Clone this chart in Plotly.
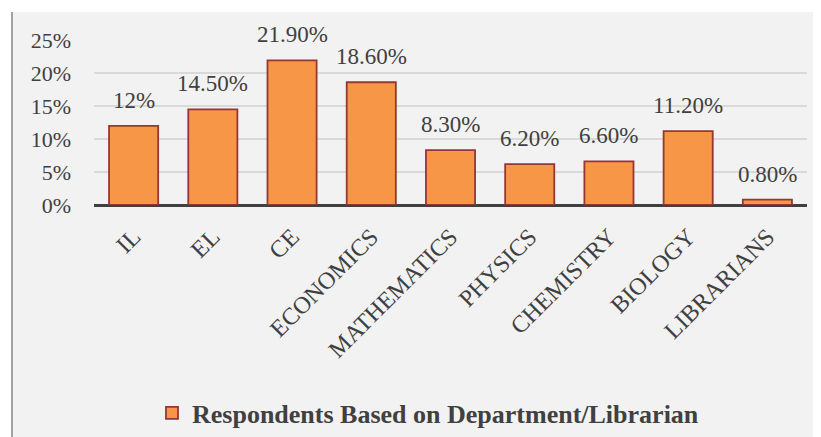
import plotly.graph_objects as go

categories = ["IL", "EL", "CE", "ECONOMICS", "MATHEMATICS", "PHYSICS", "CHEMISTRY", "BIOLOGY", "LIBRARIANS"]
values = [12, 14.5, 21.9, 18.6, 8.3, 6.2, 6.6, 11.2, 0.8]
value_labels = ["12%", "14.50%", "21.90%", "18.60%", "8.30%", "6.20%", "6.60%", "11.20%", "0.80%"]
series_name = "Respondents Based on Department/Librarian"

FONT = "Liberation Serif, Times New Roman, serif"
# page body has an 8px margin, so the figure is sized to fill the rest of the window
W, H = 813, 429
L, R, T, B = 86, 14, 32, 232
pw, ph = W - L - R, H - T - B

def px_x(p):
    return (p - L) / pw

def px_y(p):
    return (H - B - p) / ph

fig = go.Figure()
fig.add_trace(go.Bar(
    x=categories, y=values, name=series_name,
    marker=dict(color="#F79646", line=dict(color="#953735", width=1.8)),
    showlegend=True,
))

for c, v, t in zip(categories, values, value_labels):
    fig.add_annotation(x=c, y=v, text=t, showarrow=False, yanchor="bottom",
                       yshift=11, font=dict(family=FONT, size=23, color="#404040"))

shapes = [
    dict(type="rect", xref="paper", yref="paper", x0=-1, x1=2, y0=px_y(4), y1=3,
         fillcolor="white", line=dict(width=0), layer="above"),
    dict(type="rect", xref="paper", yref="paper", x0=-1, x1=px_x(3), y0=-3, y1=3,
         fillcolor="white", line=dict(width=0), layer="above"),
    dict(type="line", xref="paper", yref="paper", x0=px_x(4), x1=px_x(4), y0=-3, y1=px_y(4),
         line=dict(color="#8c8c8c", width=1.6), layer="above"),
]

fig.update_layout(
    width=W, height=H,
    margin=dict(l=L, r=R, t=T, b=B, pad=0),
    paper_bgcolor="#f2f2f2", plot_bgcolor="#f2f2f2",
    font=dict(family=FONT, color="#404040"),
    bargap=0.38,
    shapes=shapes,
    legend=dict(orientation="h", xref="container", yref="container", x=0.5166, y=1 - 405 / H,
                xanchor="center", yanchor="middle",
                font=dict(family=FONT, size=26, color="#404040", weight="bold"),
                bgcolor="rgba(0,0,0,0)", itemwidth=30),
    xaxis=dict(tickangle=-45, tickfont=dict(family=FONT, size=24, color="#404040"),
               showline=False, ticks="", ticklabelstandoff=12, showgrid=False, zeroline=False),
    yaxis=dict(range=[0, 25], dtick=5, ticksuffix="%", tickfont=dict(family=FONT, size=22, color="#404040"),
               showgrid=True, gridcolor="#d9d9d9", gridwidth=1.5, zeroline=True, zerolinecolor="#404040",
               zerolinewidth=3, ticks="", ticklabelstandoff=22, showline=False),
)

fig.write_html("out.html")
